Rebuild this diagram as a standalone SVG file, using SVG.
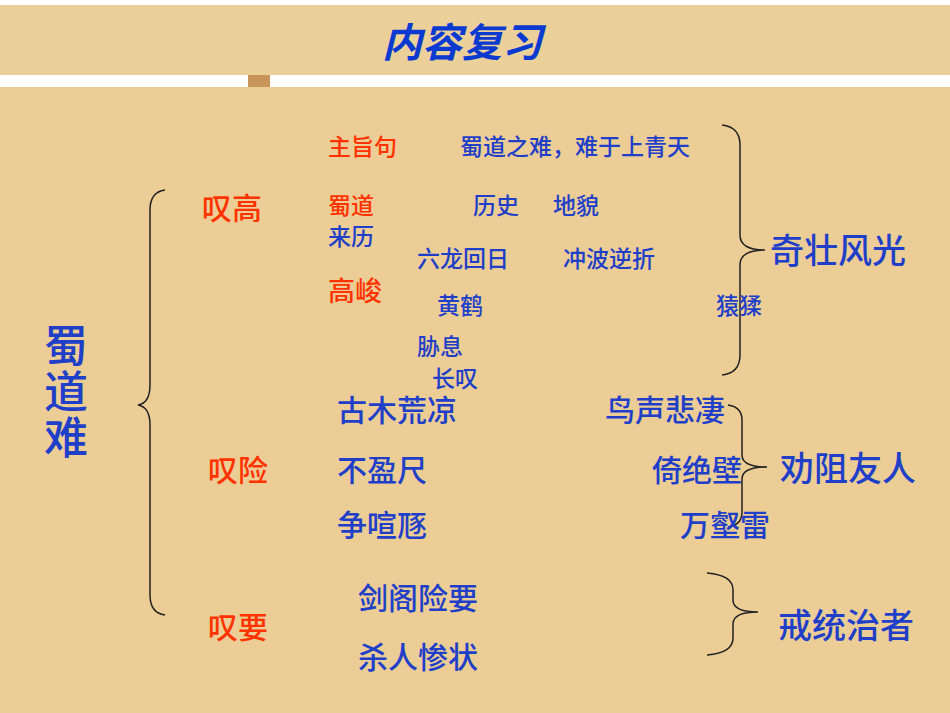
<svg xmlns="http://www.w3.org/2000/svg" width="950" height="713" viewBox="0 0 950 713">
<style>
.b{fill:#1f3fc8;font-family:"Liberation Sans","Noto Sans CJK SC",sans-serif;font-weight:500}
.r{fill:#ff3300;font-family:"Liberation Sans","Noto Sans CJK SC",sans-serif;font-weight:500}
.s{font-size:23px}.m{font-size:30px}.l{font-size:34px}
.br{fill:none;stroke:#222;stroke-width:1.5}
</style>
<rect width="950" height="713" fill="#fff"/>
<rect x="0" y="5" width="950" height="70" fill="#ecd09a"/>
<rect x="0" y="87" width="950" height="626" fill="#ebcd95"/>
<rect x="248" y="75" width="22" height="12" fill="#c8965a"/>
<g id="title"><text x="462" y="57" text-anchor="middle" fill="#0a3ad0" font-size="40" font-style="italic" font-family="Noto Sans CJK SC,sans-serif" font-weight="bold">内容复习</text></g>
<g id="connectors">
<path class="br" d="M165,190 Q150,192 150,210 L150,385 Q150,403 138,405 Q150,407 150,425 L150,595 Q150,613 165,615"/>
<path class="br" d="M722,125 Q740,127 740,145 L740,235 Q740,250 765,250 Q740,250 740,265 L740,355 Q740,373 722,375"/>
<path class="br" d="M728,405 Q742,407 742,420 L742,455 Q742,467 767,467 Q742,467 742,479 L742,512 Q742,525 728,527"/>
<path class="br" d="M707,573 Q733,575 733,590 L733,600 Q733,612 758,612 Q733,612 733,624 L733,638 Q733,653 707,655"/>
</g>
<g id="root"><text class="b" font-size="44" x="44" y="362">蜀</text><text class="b" font-size="44" x="44" y="408">道</text><text class="b" font-size="44" x="44" y="454">难</text></g>
<g id="n1">
<text class="r s" x="328" y="155">主旨句</text><text class="b s" x="460" y="155">蜀道之难，难于上青天</text>
<text class="r m" x="202" y="219">叹高</text>
<text class="r s" x="328" y="214">蜀道</text><text class="b s" x="328" y="245">来历</text>
<text class="b s" x="473" y="214">历史</text><text class="b s" x="553" y="214">地貌</text>
<text class="b s" x="417" y="267">六龙回日</text><text class="b s" x="563" y="267">冲波逆折</text>
<text class="r" font-size="27" x="328" y="301">高峻</text>
<text class="b s" x="437" y="314">黄鹤</text><text class="b s" x="716" y="314">猿猱</text>
<text class="b s" x="417" y="355">胁息</text><text class="b s" x="432" y="387">长叹</text>
<text class="b l" x="770" y="263">奇壮风光</text>
</g>
<g id="n2">
<text class="r m" x="208" y="481">叹险</text>
<text class="b m" x="337" y="421">古木荒凉</text><text class="b m" x="605" y="421">鸟声悲凄</text>
<text class="b m" x="337" y="481">不盈尺</text><text class="b m" x="652" y="481">倚绝壁</text>
<text class="b m" x="337" y="536">争喧豗</text><text class="b m" x="680" y="536">万壑雷</text>
<text class="b l" x="780" y="481">劝阻友人</text>
</g>
<g id="n3">
<text class="r m" x="208" y="638">叹要</text>
<text class="b m" x="358" y="609">剑阁险要</text><text class="b m" x="358" y="668">杀人惨状</text>
<text class="b l" x="778" y="638">戒统治者</text>
</g>
</svg>
